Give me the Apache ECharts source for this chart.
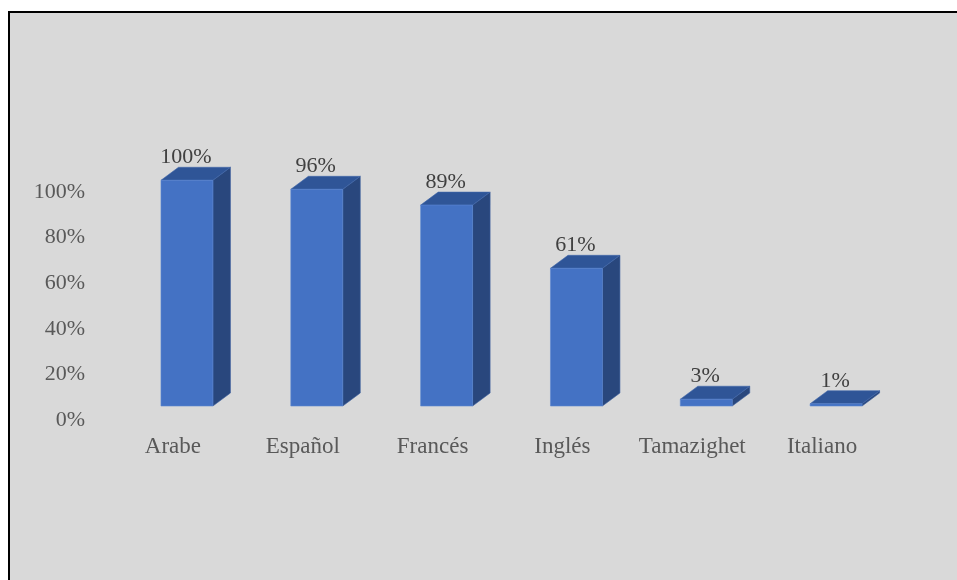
<!DOCTYPE html>
<html>
<head>
<meta charset="utf-8">
<script src="https://cdn.jsdelivr.net/npm/echarts@6/dist/echarts.min.js"></script>
<style>
  html, body { margin: 0; padding: 0; background: #ffffff; }
  #chart { width: 957px; height: 580px; }
</style>
</head>
<body>
<div id="chart"></div>
<script>
// Idiomas hablados (porcentaje de encuestados)
const categories = ['Arabe', 'Español', 'Francés', 'Inglés', 'Tamazighet', 'Italiano'];
const values = [100, 96, 89, 61, 3, 1];
const yTicks = [0, 20, 40, 60, 80, 100];

const FONT = '"Liberation Serif", "Times New Roman", serif';

const chart = echarts.init(document.getElementById('chart'), null, { renderer: 'canvas' });

// Draws one pseudo-3D column: front face, right side and top
function renderBox(params, api) {
  const idx = api.value(0);
  const v = api.value(1);
  const base = api.coord([idx, 0]);
  const top = api.coord([idx, v]);
  const band = api.size([1, 0])[0];
  const halfW = band * 0.2;
  const dx = band * 0.135;
  const dy = -13;
  const lift = -14;
  const cx = base[0] + band * 0.108;
  const x0 = cx - halfW, x1 = cx + halfW;
  const yb = base[1] + lift;
  // front face sits slightly in front of the back wall, so it is a touch shorter
  const yt = yb - (base[1] - top[1]) * 0.99;
  return {
    type: 'group',
    children: [
      {
        type: 'polygon',
        shape: { points: [[x1, yb], [x1 + dx, yb + dy], [x1 + dx, yt + dy], [x1, yt]] },
        style: { fill: '#29477d', stroke: '#3a5e9e', lineWidth: 0.6 }
      },
      {
        type: 'polygon',
        shape: { points: [[x0, yt], [x0 + dx, yt + dy], [x1 + dx, yt + dy], [x1, yt]] },
        style: { fill: '#2f5597', stroke: '#3f66aa', lineWidth: 0.6 }
      },
      {
        type: 'rect',
        shape: { x: x0, y: yt, width: x1 - x0, height: yb - yt },
        style: { fill: '#4472c4', stroke: '#5a86d2', lineWidth: 0.6 }
      },
      {
        type: 'text',
        style: {
          x: cx - 1, y: yt + dy - 10,
          text: v + '%',
          align: 'center', verticalAlign: 'middle',
          fill: '#404040', font: '22px ' + FONT
        }
      }
    ]
  };
}

chart.setOption({
  backgroundColor: '#ffffff',
  animation: false,
  graphic: [{
    type: 'rect',
    z: -10,
    shape: { x: 9, y: 12, width: 980, height: 600 },
    style: { fill: '#d9d9d9', stroke: '#000000', lineWidth: 2 }
  }],
  grid: { left: 108, right: 70, top: 192, bottom: 160 },
  xAxis: {
    type: 'category',
    data: categories,
    axisLine: { show: false },
    axisTick: { show: false },
    axisLabel: { color: '#595959', fontFamily: FONT, fontSize: 23, margin: 15, interval: 0 }
  },
  yAxis: {
    type: 'value',
    min: yTicks[0],
    max: yTicks[yTicks.length - 1],
    interval: yTicks[1] - yTicks[0],
    axisLine: { show: false },
    axisTick: { show: false },
    splitLine: { show: false },
    axisLabel: { color: '#595959', fontFamily: FONT, fontSize: 22, margin: 23, formatter: '{value}%' }
  },
  series: [{
    type: 'custom',
    renderItem: renderBox,
    encode: { x: 0, y: 1 },
    data: values.map((v, i) => [i, v])
  }]
});
</script>
</body>
</html>
